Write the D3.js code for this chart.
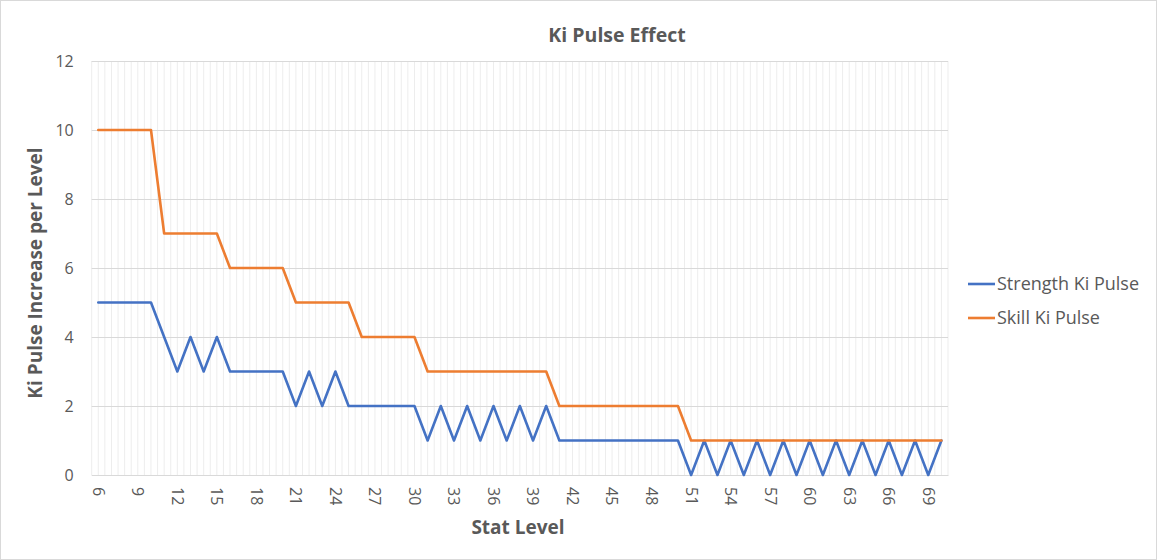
<!DOCTYPE html>
<html>
<head>
<meta charset="utf-8">
<script src="https://cdn.jsdelivr.net/npm/d3@7"></script>
<style>
  body { margin: 0; background: #fff; }
  text { font-family: "Open Sans", "Liberation Sans", sans-serif; fill: #595959; }
</style>
</head>
<body>
<div id="chart"></div>
<script>
// stat levels on the x axis
var levels = [6,7,8,9,10,11,12,13,14,15,16,17,18,19,20,21,22,23,24,25,26,27,28,29,30,
  31,32,33,34,35,36,37,38,39,40,41,42,43,44,45,46,47,48,49,50,
  51,52,53,54,55,56,57,58,59,60,61,62,63,64,65,66,67,68,69,70];

var strengthKi = [5,5,5,5,5, 4,3,4,3,4, 3,3,3,3,3, 2,3,2,3,2, 2,2,2,2,2,
  1,2,1,2,1,2,1,2,1,2, 1,1,1,1,1,1,1,1,1,1,
  0,1,0,1,0,1,0,1,0,1,0,1,0,1,0,1,0,1,0,1];

var skillKi = [10,10,10,10,10, 7,7,7,7,7, 6,6,6,6,6, 5,5,5,5,5, 4,4,4,4,4,
  3,3,3,3,3,3,3,3,3,3, 2,2,2,2,2,2,2,2,2,2,
  1,1,1,1,1,1,1,1,1,1,1,1,1,1,1,1,1,1,1,1];

var xTickLabels = [6,9,12,15,18,21,24,27,30,33,36,39,42,45,48,51,54,57,60,63,66,69];
var yTicks = [0,2,4,6,8,10,12];

var seriesNames = ["Strength Ki Pulse", "Skill Ki Pulse"];
var seriesColors = ["#4472C4", "#ED7D31"];

var W = 1157, H = 560;
var plot = {left: 91.7, right: 948, top: 61, bottom: 475};

var svg = d3.select("#chart").append("svg")
  .attr("width", W)
  .attr("height", H);

svg.append("rect")
  .attr("x", 0.5).attr("y", 0.5)
  .attr("width", W - 1).attr("height", H - 1)
  .attr("fill", "#fff")
  .attr("stroke", "#d9d9d9");

var x = d3.scalePoint()
  .domain(levels)
  .range([plot.left, plot.right])
  .padding(0.5);

var y = d3.scaleLinear()
  .domain([0, 12])
  .range([plot.bottom, plot.top]);

// vertical gridlines: category edges and centres
var half = x.step() / 2;
var vLines = d3.range(0, levels.length * 2 + 1).map(function(i){ return plot.left + i * half; });
svg.append("g")
  .selectAll("line")
  .data(vLines)
  .enter().append("line")
  .attr("x1", function(d){ return d; })
  .attr("x2", function(d){ return d; })
  .attr("y1", plot.top)
  .attr("y2", plot.bottom)
  .attr("stroke", "#ededed")
  .attr("stroke-width", 1);

// horizontal gridlines + y labels
var yAxis = d3.axisLeft(y)
  .tickValues(yTicks)
  .tickSize(-(plot.right - plot.left))
  .tickPadding(18)
  .tickFormat(d3.format("d"));

var yg = svg.append("g")
  .attr("transform", "translate(" + plot.left + ",0)")
  .call(yAxis);
yg.select(".domain").remove();
yg.selectAll(".tick line").attr("stroke", "#d9d9d9");
yg.selectAll(".tick text")
  .style("font-size", "16px")
  .style("font-family", "'Open Sans', sans-serif")
  .attr("fill", "#595959");

// x axis
var xAxis = d3.axisBottom(x)
  .tickValues(xTickLabels)
  .tickSize(0)
  .tickPadding(0);

var xg = svg.append("g")
  .attr("transform", "translate(0," + plot.bottom + ")")
  .call(xAxis);
xg.select(".domain").attr("stroke", "#d9d9d9");
xg.selectAll(".tick text")
  .style("font-size", "16px")
  .style("font-family", "'Open Sans', sans-serif")
  .attr("fill", "#595959")
  .attr("text-anchor", "start")
  .attr("dy", "0.35em")
  .attr("y", 0)
  .attr("transform", "translate(-0.5,12) rotate(90)");

// lines
var line = d3.line()
  .x(function(d, i){ return x(levels[i]); })
  .y(function(d){ return y(d); });

[strengthKi, skillKi].forEach(function(s, i){
  svg.append("path")
    .datum(s)
    .attr("fill", "none")
    .attr("stroke", seriesColors[i])
    .attr("stroke-width", 2.6)
    .attr("stroke-linejoin", "round")
    .attr("stroke-linecap", "round")
    .attr("d", line);
});

// titles
svg.append("text")
  .attr("x", 617)
  .attr("y", 42)
  .attr("text-anchor", "middle")
  .style("font-size", "19.5px")
  .style("font-weight", "bold")
  .text("Ki Pulse Effect");

svg.append("text")
  .attr("transform", "translate(42,273) rotate(-90)")
  .attr("text-anchor", "middle")
  .style("font-size", "19px")
  .style("font-weight", "bold")
  .text("Ki Pulse Increase per Level");

svg.append("text")
  .attr("x", 518)
  .attr("y", 534)
  .attr("text-anchor", "middle")
  .style("font-size", "19px")
  .style("font-weight", "bold")
  .text("Stat Level");

// legend
var legend = svg.selectAll(".legend")
  .data(seriesNames)
  .enter().append("g")
  .attr("class", "legend")
  .attr("transform", function(d, i){ return "translate(968," + (284 + i * 34) + ")"; });

legend.append("line")
  .attr("x1", 0).attr("x2", 27)
  .attr("stroke", function(d, i){ return seriesColors[i]; })
  .attr("stroke-width", 2.6);

legend.append("text")
  .attr("x", 29)
  .attr("dy", "0.35em")
  .style("font-size", "18px")
  .text(function(d){ return d; });
</script>
</body>
</html>
